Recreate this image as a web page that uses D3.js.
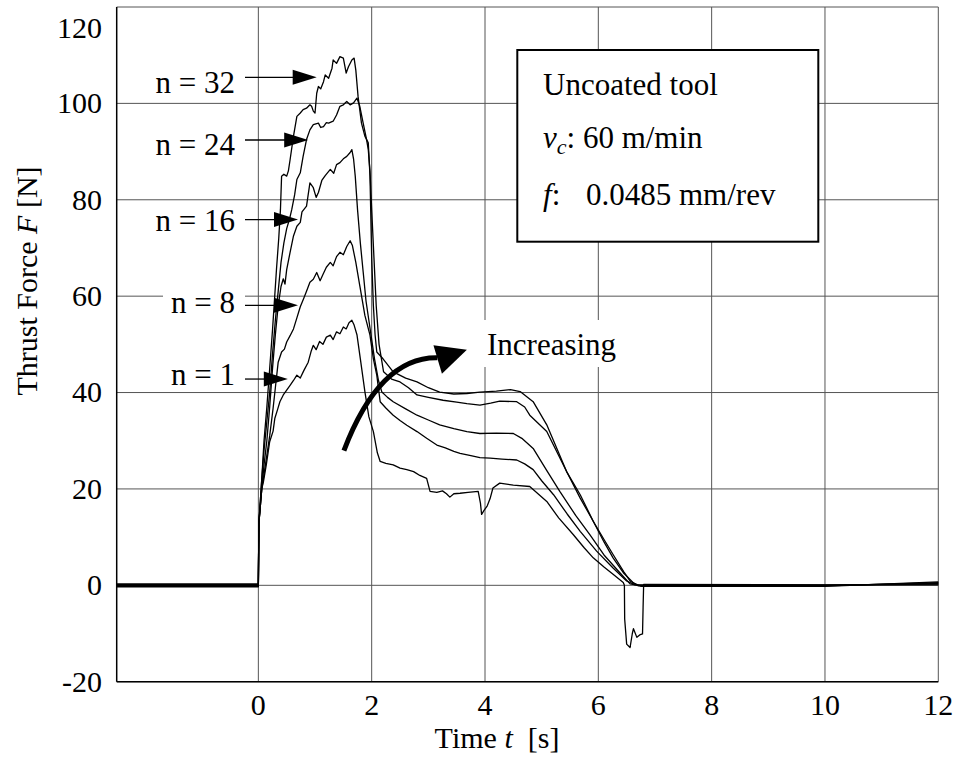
<!DOCTYPE html>
<html>
<head>
<meta charset="utf-8">
<script src="https://cdn.jsdelivr.net/npm/d3@7"></script>
<style>
  body { margin: 0; background: #fff; }
  text { font-family: "Liberation Serif", "Times New Roman", serif; fill: #000; }
</style>
</head>
<body>
<script>
// thrust force curves: [time t (s), force F (N)]
let n1 = [[-2.5,0.3],[0,0.3],[0.01,13],[0.06,20],[0.09,21.5],[0.14,25],[0.2,29.8],[0.26,32],[0.29,34.6],[0.34,36.5],[0.38,38.1],[0.44,39.5],[0.5,40.5],[0.56,41.5],[0.62,42.5],[0.68,43.6],[0.74,43],[0.8,44.5],[0.88,46.3],[0.93,48.5],[0.97,49.8],[1.02,48.9],[1.08,50.6],[1.14,50],[1.2,51.5],[1.27,51.9],[1.32,51],[1.38,52.6],[1.44,52.2],[1.5,53.6],[1.55,53.2],[1.6,54.5],[1.65,55],[1.69,54],[1.74,52],[1.8,47],[1.88,40.2],[1.95,35],[2.03,31.9],[2.1,27.5],[2.15,25.7],[2.25,25.3],[2.38,25],[2.5,24.3],[2.62,24],[2.74,23.6],[2.85,22.8],[2.97,22.2],[3.03,19.5],[3.15,19.3],[3.25,19.6],[3.32,19],[3.38,18.3],[3.45,19],[3.56,19.1],[3.7,19.3],[3.88,19.5],[3.92,17],[3.94,14.7],[3.98,15.5],[4.04,16.5],[4.09,18],[4.14,20.2],[4.26,21.2],[4.5,20.8],[4.79,20.5],[5.09,17.4],[5.3,14],[5.56,10.5],[5.75,7.8],[5.91,5.7],[6.1,3.8],[6.26,2.3],[6.44,0.6],[6.46,0],[6.465,-7],[6.5,-12.2],[6.56,-12.9],[6.6,-10],[6.62,-9],[6.68,-10.8],[6.73,-10.3],[6.78,-10.1],[6.79,-4.6],[6.8,0.2],[10,0.1],[12,0.1]]

let n8 = [[-2.5,0.15],[0,0.15],[0.01,13],[0.06,20],[0.1,23],[0.15,27],[0.2,31],[0.26,36.7],[0.3,41],[0.35,46.3],[0.41,48.4],[0.46,49],[0.5,50.5],[0.56,51.8],[0.62,53.2],[0.68,55.5],[0.74,57.8],[0.8,59.5],[0.85,61],[0.91,62.9],[0.97,63.5],[1.03,64.9],[1.09,63.2],[1.14,64.5],[1.2,66],[1.27,67],[1.32,66.3],[1.38,68.2],[1.44,69.1],[1.5,68.6],[1.56,70.3],[1.62,71.5],[1.66,70.5],[1.72,67],[1.79,62.2],[1.88,56],[1.97,51.9],[2.03,47],[2.09,43.6],[2.15,38.1],[2.25,36.8],[2.38,35.3],[2.5,34.2],[2.62,33.2],[2.8,31.9],[2.97,30.5],[3.15,29.1],[3.3,28.5],[3.45,27.8],[3.56,27.4],[3.75,26.9],[3.91,26.5],[4.09,26.4],[4.3,26.2],[4.56,26],[4.7,25.2],[4.85,24],[5.0,21.7],[5.21,18.8],[5.45,14.8],[5.68,11.2],[5.97,7.1],[6.26,3.6],[6.5,0.9],[6.65,0.1],[10,0.05],[12,0.25]]

let n16 = [[-2.5,0],[0,0],[0.01,13],[0.06,20],[0.1,25],[0.15,30],[0.2,37],[0.25,45],[0.3,52],[0.35,58],[0.4,62],[0.44,63.6],[0.47,62.5],[0.5,65.5],[0.56,69.1],[0.62,72.5],[0.68,74.5],[0.74,75.3],[0.77,77.5],[0.85,78.7],[0.91,83.5],[0.97,82.5],[1.02,80.5],[1.06,81.5],[1.12,84],[1.18,85],[1.27,86.3],[1.33,85.5],[1.38,87.3],[1.44,87.7],[1.5,88.5],[1.56,89],[1.62,89.8],[1.65,90.4],[1.68,88.5],[1.71,84.9],[1.75,78],[1.8,71],[1.85,65],[1.9,59],[1.95,55],[2.05,47],[2.12,42.5],[2.18,40.1],[2.28,39],[2.38,38.1],[2.6,36.6],[2.8,35.3],[3.0,34.3],[3.2,33.3],[3.45,32.5],[3.68,31.9],[3.91,31.5],[4.2,31.6],[4.5,31.5],[4.65,30.5],[4.85,28.4],[5.08,24],[5.32,19.5],[5.6,14.5],[5.85,10.5],[6.1,6.3],[6.38,2.6],[6.56,0.3],[6.7,0],[10,0],[12,0.4]]

let n24 = [[-2.5,-0.15],[0,-0.15],[0.01,13],[0.06,22],[0.1,28],[0.15,34],[0.2,40],[0.25,48],[0.3,55],[0.35,61],[0.4,67],[0.45,71],[0.5,74],[0.55,76],[0.59,78],[0.64,81],[0.68,84.2],[0.74,85.6],[0.79,89],[0.85,92.5],[0.91,94.5],[0.97,95.6],[1.06,95.9],[1.1,95],[1.15,95.2],[1.2,96],[1.24,95.9],[1.32,96.3],[1.38,97.6],[1.44,99.4],[1.5,99.7],[1.56,100.4],[1.62,99.7],[1.68,100.1],[1.74,101.1],[1.79,99.4],[1.85,95.9],[1.91,92.5],[1.94,90.4],[1.97,86],[2.0,78],[2.04,68],[2.08,58],[2.13,50],[2.21,44.3],[2.35,42.8],[2.5,42.2],[2.65,41],[2.8,39.5],[3.0,39],[3.26,38.4],[3.5,38],[3.68,37.7],[3.91,37.4],[4.1,37.8],[4.26,38.2],[4.56,38.1],[4.7,37],[4.79,35.3],[5.09,31.9],[5.44,23.6],[5.68,18.1],[5.91,13.3],[6.1,9.5],[6.26,6.4],[6.45,2.8],[6.56,0.9],[6.7,-0.1],[10,-0.1],[12,0.55]]

let n32 = [[-2.5,-0.3],[0,-0.3],[0.01,13],[0.06,22],[0.1,30],[0.15,37],[0.2,45],[0.25,53],[0.32,65.6],[0.36,72],[0.39,78],[0.41,84.9],[0.45,85.3],[0.5,84.9],[0.53,86],[0.56,88.3],[0.62,93.2],[0.68,97.3],[0.74,98],[0.79,98.7],[0.85,99],[0.91,99.7],[0.94,99.4],[0.97,98.4],[1.0,98],[1.03,102.1],[1.06,103.5],[1.1,103],[1.15,104.5],[1.18,105.9],[1.24,105.2],[1.3,107.3],[1.32,109],[1.38,108.3],[1.44,109.7],[1.5,109.4],[1.55,106.3],[1.59,107.6],[1.65,109],[1.69,109.4],[1.72,106.9],[1.76,101.4],[1.82,95.9],[1.88,93.2],[1.94,91.8],[1.97,85],[1.98,79.4],[2.0,68],[2.03,58],[2.06,52],[2.09,48.4],[2.2,47],[2.38,44.3],[2.6,43],[2.8,42.2],[3.0,41],[3.2,40.1],[3.45,39.7],[3.68,39.8],[3.91,40.1],[4.2,40.3],[4.45,40.6],[4.62,40.2],[4.85,38.1],[5.09,33.3],[5.44,23.6],[5.68,18.8],[5.91,13.3],[6.1,9],[6.26,5.7],[6.45,2.5],[6.62,0.5],[6.75,-0.2],[10,-0.2],[12,0.7]]

let seriesLabels = ["n = 32", "n = 24", "n = 16", "n = 8", "n = 1"]
let xTicks = [0, 2, 4, 6, 8, 10, 12]
let yTicks = [-20, 0, 20, 40, 60, 80, 100, 120]

// where the label arrows point (time, force) and where the label baseline sits (force)
let arrowTime = [1.03, 0.88, 0.70, 0.70, 0.52]
let arrowForce = [105.4, 92.4, 75.9, 58.1, 42.8]
let labelForce = [102.1, 89.3, 73.6, 56.5, 41.6]

let infoLines = ["Uncoated tool", "60 m/min", "0.0485 mm/rev"]

// setup canvas
let width = 959
let height = 774

let svg = d3.select("body").append("svg")
    .attr("width", width)
    .attr("height", height)

let x = d3.scaleLinear().domain([-2.5, 12]).range([116.7, 938.3])
let y = d3.scaleLinear().domain([-20, 120]).range([681.7, 7])

// grid
svg.append("g").selectAll("line")
    .data(xTicks)
    .enter().append("line")
        .attr("x1", d => x(d)).attr("x2", d => x(d))
        .attr("y1", y(-20)).attr("y2", y(120))
        .attr("stroke", "#555")
        .attr("stroke-width", 1)

svg.append("g").selectAll("line")
    .data(yTicks)
    .enter().append("line")
        .attr("x1", x(-2.5)).attr("x2", x(12))
        .attr("y1", d => y(d)).attr("y2", d => y(d))
        .attr("stroke", "#555")
        .attr("stroke-width", 1)

// left and bottom frame
svg.append("line")
    .attr("x1", x(-2.5)).attr("x2", x(-2.5))
    .attr("y1", y(120)).attr("y2", y(-20))
    .attr("stroke", "#000").attr("stroke-width", 1.5)
svg.append("line")
    .attr("x1", x(-2.5)).attr("x2", x(12))
    .attr("y1", y(-20)).attr("y2", y(-20))
    .attr("stroke", "#000").attr("stroke-width", 1.5)

// tick labels
svg.append("g").selectAll("text")
    .data(yTicks)
    .enter().append("text")
        .attr("x", 102)
        .attr("y", d => Math.max(y(d), 28))
        .attr("dy", "0.33em")
        .attr("text-anchor", "end")
        .attr("font-size", 30)
        .text(d => d)

svg.append("g").selectAll("text")
    .data(xTicks)
    .enter().append("text")
        .attr("x", d => x(d))
        .attr("y", 715)
        .attr("text-anchor", "middle")
        .attr("font-size", 30)
        .text(d => d)

// axis titles
let yTitle = svg.append("text")
    .attr("transform", "translate(37,281) rotate(-90)")
    .attr("text-anchor", "middle")
    .attr("font-size", 30)
yTitle.append("tspan").text("Thrust Force ")
yTitle.append("tspan").attr("font-style", "italic").text("F")
yTitle.append("tspan").text(" [N]")

let xTitle = svg.append("text")
    .attr("x", 497)
    .attr("y", 748)
    .attr("text-anchor", "middle")
    .attr("font-size", 30)
xTitle.append("tspan").text("Time ")
xTitle.append("tspan").attr("font-style", "italic").text("t")
xTitle.append("tspan").text("\u00a0\u00a0[s]")

// info box
svg.append("rect")
    .attr("x", 517.3).attr("y", 50)
    .attr("width", 301).attr("height", 191.7)
    .attr("fill", "#fff")
    .attr("stroke", "#000")
    .attr("stroke-width", 2)

svg.append("text")
    .attr("x", 543).attr("y", 95)
    .attr("font-size", 31)
    .text(infoLines[0])

let vLine = svg.append("text")
    .attr("x", 543).attr("y", 148)
    .attr("font-size", 31)
vLine.append("tspan").attr("font-style", "italic").text("v")
vLine.append("tspan").attr("font-style", "italic").attr("font-size", 22).attr("dy", 6).text("c")
vLine.append("tspan").attr("dy", -6).text(": " + infoLines[1])

let fLine = svg.append("text")
    .attr("x", 543).attr("y", 205)
    .attr("font-size", 31)
fLine.append("tspan").attr("font-style", "italic").text("f")
fLine.append("tspan").text(":")
fLine.append("tspan").attr("x", 586).text(infoLines[2])

// "n = .." labels with arrows
let labels = seriesLabels.map((s, i) => ({ text: s, t: arrowTime[i], f: arrowForce[i], lf: labelForce[i] }))
let arrowStart = 245

labels.forEach(l => {
    let bg = svg.append("rect").attr("fill", "#fff")
    let txt = svg.append("text")
        .attr("x", 235)
        .attr("y", y(l.lf))
        .attr("text-anchor", "end")
        .attr("font-size", 31)
        .text(l.text)
    let w = txt.node().getComputedTextLength()
    bg.attr("x", 235 - w - 8)
        .attr("y", y(l.lf) - 28)
        .attr("width", w + 8 + (arrowStart - 235))
        .attr("height", 29.5)
})

// curves
let line = d3.line()
    .x(d => x(d[0]))
    .y(d => y(d[1]))

svg.append("g").selectAll("path")
    .data([n1, n8, n16, n24, n32])
    .enter().append("path")
        .attr("d", line)
        .attr("fill", "none")
        .attr("stroke", "#000")
        .attr("stroke-width", 1.3)
        .attr("stroke-linejoin", "round")

// arrows on top of curves
labels.forEach(l => {
    let tx = x(l.t), ty = y(l.f)
    svg.append("line")
        .attr("x1", arrowStart).attr("x2", tx - 20)
        .attr("y1", ty).attr("y2", ty)
        .attr("stroke", "#000").attr("stroke-width", 1.3)
    svg.append("path")
        .attr("d", `M${tx},${ty} L${tx - 24},${ty - 7.5} L${tx - 24},${ty + 7.5} Z`)
        .attr("fill", "#000")
})

// "Increasing" annotation
svg.append("rect")
    .attr("x", 481).attr("y", 320)
    .attr("width", 144).attr("height", 47)
    .attr("fill", "#fff")
svg.append("text")
    .attr("x", 487).attr("y", 355)
    .attr("font-size", 31)
    .text("Increasing")

svg.append("path")
    .attr("d", `M${x(1.51)},${y(27.95)} Q${x(2.14)},${y(47.4)} ${x(3.16)},${y(47.2)}`)
    .attr("fill", "none")
    .attr("stroke", "#000")
    .attr("stroke-width", 5)
svg.append("path")
    .attr("d", `M${x(3.68)},${y(48.9)} L${x(3.09)},${y(49.8)} L${x(3.24)},${y(43.9)} Z`)
    .attr("fill", "#000")
</script>
</body>
</html>
